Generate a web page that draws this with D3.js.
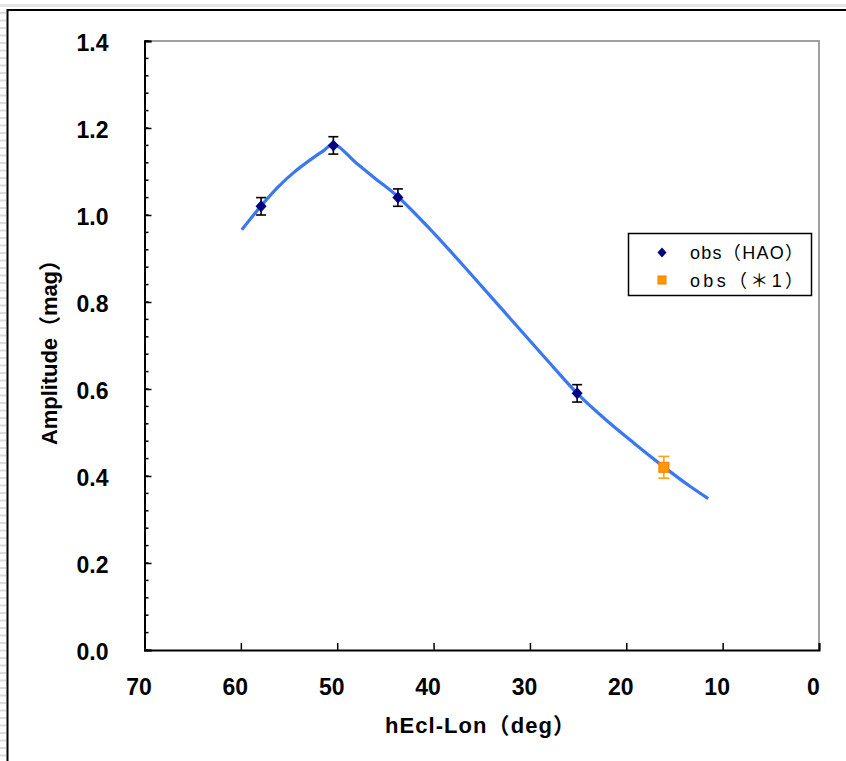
<!DOCTYPE html>
<html>
<head>
<meta charset="utf-8">
<script src="https://cdn.jsdelivr.net/npm/d3@7"></script>
<style>
  html, body { margin: 0; padding: 0; background: #fff; }
  svg { display: block; }
</style>
</head>
<body>
<svg id="chart" width="846" height="761"></svg>
<script>
// Observed amplitudes (HAO) with 1-sigma errors
const haoLon = [57.9, 50.4, 43.7, 25.1];
const haoAmp = [1.02, 1.16, 1.04, 0.59];
const haoErr = [0.02, 0.02, 0.02, 0.02];

// Additional observation (*1)
const refLon = [16.1];
const refAmp = [0.42];
const refErr = [0.025];

// Model amplitude curve
const modelLon = [59.9, 57.9, 56.2, 54.5, 52.4, 51.4, 50.4, 48.0, 46.0, 43.7, 40.0, 36.0, 32.0, 28.0, 25.1, 22.0, 19.0, 16.1, 13.5, 11.5];
const modelAmp = [0.966, 1.021, 1.063, 1.098, 1.133, 1.148, 1.163, 1.119, 1.083, 1.042, 0.959, 0.861, 0.761, 0.661, 0.590, 0.527, 0.472, 0.421, 0.378, 0.348];

// Axis ticks
const xTicks = [70, 60, 50, 40, 30, 20, 10, 0];
const yTicks = [0.0, 0.2, 0.4, 0.6, 0.8, 1.0, 1.2, 1.4];
const yMinorTicks = d3.range(0, 36).map(i => +(i * 0.04).toFixed(2));

const legendLabels = ["obs（HAO）", "obs（＊1）"];

const svg = d3.select("#chart");

// Page decoration: outer frame and light strips
svg.append("rect").attr("x", 0).attr("y", 4).attr("width", 846).attr("height", 3).attr("fill", "#e4e4e4");
for (let yy = 12; yy < 761; yy += 7.5) {
  svg.append("rect").attr("x", 0).attr("y", yy).attr("width", 6).attr("height", 2).attr("fill", "#dcdcdc");
}
svg.append("path")
  .attr("d", "M7.5,761 V10 H846")
  .attr("fill", "none").attr("stroke", "#000").attr("stroke-width", 2);

const x = d3.scaleLinear().domain([70, 0]).range([144.5, 819]);
const y = d3.scaleLinear().domain([0, 1.4]).range([650, 41]);

const tickFont = "'Liberation Sans', Arial, sans-serif";

// Plot frame: top and right in gray
svg.append("path")
  .attr("d", `M${x(70)},${y(1.4)} H${x(0)} V${y(0)}`)
  .attr("fill", "none").attr("stroke", "#a0a0a0").attr("stroke-width", 2);

// Minor y ticks
svg.append("g").selectAll("line").data(yMinorTicks).join("line")
  .attr("x1", x(70)).attr("x2", x(70) + 4)
  .attr("y1", d => y(d)).attr("y2", d => y(d))
  .attr("stroke", "#000").attr("stroke-width", 1.5);

// Y axis
const yAxis = svg.append("g")
  .attr("transform", `translate(${x(70)},0)`)
  .call(d3.axisLeft(y).tickValues(yTicks).tickSize(-7).tickPadding(36).tickFormat(d3.format(".1f")));
yAxis.select(".domain").attr("stroke", "#000").attr("stroke-width", 2);
yAxis.selectAll(".tick line").attr("stroke", "#000").attr("stroke-width", 1.5);
yAxis.selectAll(".tick text")
  .attr("font-family", tickFont).attr("font-size", 23).attr("font-weight", "bold").attr("fill", "#000")
  .attr("dy", "0.4em");

// X axis
const xAxis = svg.append("g")
  .attr("transform", `translate(0,${y(0)})`)
  .call(d3.axisBottom(x).tickValues(xTicks).tickSize(-7).tickPadding(29).tickFormat(d3.format("d")));
xAxis.select(".domain").attr("stroke", "#000").attr("stroke-width", 2);
xAxis.selectAll(".tick line").attr("stroke", "#000").attr("stroke-width", 1.5);
xAxis.selectAll(".tick text")
  .attr("font-family", tickFont).attr("font-size", 23).attr("font-weight", "bold").attr("fill", "#000")
  .attr("dx", -6);

// Axis titles
const titleFont = "'Liberation Sans', 'Noto Sans CJK JP', Arial, sans-serif";
svg.append("text")
  .attr("x", 480).attr("y", 733)
  .attr("text-anchor", "middle")
  .attr("font-family", titleFont).attr("font-size", 22).attr("font-weight", "bold")
  .attr("textLength", 190).attr("lengthAdjust", "spacing")
  .text("hEcl-Lon（deg）");
svg.append("text")
  .attr("transform", "translate(57,347) rotate(-90)")
  .attr("text-anchor", "middle")
  .attr("font-family", titleFont).attr("font-size", 22).attr("font-weight", "bold")
  .attr("textLength", 196).attr("lengthAdjust", "spacing")
  .text("Amplitude（mag）");

// Model curve
const model = modelLon.map((d, i) => [d, modelAmp[i]]);
svg.append("path")
  .datum(model)
  .attr("d", d3.line().x(d => x(d[0])).y(d => y(d[1])).curve(d3.curveCatmullRom.alpha(0.5)))
  .attr("fill", "none").attr("stroke", "#3a78f2").attr("stroke-width", 3.2)
  .attr("stroke-linecap", "butt");

// Error bars
function errorBars(lon, amp, err, color, cap) {
  const g = svg.append("g").attr("stroke", color).attr("stroke-width", 1.6).attr("fill", "none");
  lon.forEach((d, i) => {
    const cx = x(d), y0 = y(amp[i] - err[i]), y1 = y(amp[i] + err[i]);
    g.append("line").attr("x1", cx).attr("x2", cx).attr("y1", y0).attr("y2", y1);
    g.append("line").attr("x1", cx - cap).attr("x2", cx + cap).attr("y1", y0).attr("y2", y0);
    g.append("line").attr("x1", cx - cap).attr("x2", cx + cap).attr("y1", y1).attr("y2", y1);
  });
}
errorBars(haoLon, haoAmp, haoErr, "#000", 5);
errorBars(refLon, refAmp, refErr, "#ffa31a", 5.5);

// Markers
const diamond = (w, h) => `M0,${-h}L${w},0L0,${h}L${-w},0Z`;
svg.append("g").selectAll("path").data(haoLon).join("path")
  .attr("transform", (d, i) => `translate(${x(d)},${y(haoAmp[i])})`)
  .attr("d", diamond(5.5, 6))
  .attr("fill", "#000080");
svg.append("g").selectAll("rect").data(refLon).join("rect")
  .attr("x", d => x(d) - 5).attr("y", (d, i) => y(refAmp[i]) - 5)
  .attr("width", 10).attr("height", 10)
  .attr("fill", "#ff9900").attr("stroke", "#ff7a00").attr("stroke-width", 1);

// Legend
const lg = svg.append("g");
lg.append("rect").attr("x", 628.5).attr("y", 233.5).attr("width", 183).attr("height", 62)
  .attr("fill", "#fff").attr("stroke", "#000").attr("stroke-width", 1.5);
lg.append("path").attr("transform", "translate(662,252.5)").attr("d", diamond(4.5, 5)).attr("fill", "#000080");
lg.append("rect").attr("x", 658).attr("y", 276).attr("width", 8).attr("height", 8)
  .attr("fill", "#ff9900").attr("stroke", "#ff7a00").attr("stroke-width", 1);
lg.selectAll("text").data(legendLabels).join("text")
  .attr("x", 690).attr("y", (d, i) => 259 + i * 28)
  .attr("font-family", titleFont).attr("font-size", 18)
  .attr("textLength", 113).attr("lengthAdjust", "spacing")
  .text(d => d);
</script>
</body>
</html>
